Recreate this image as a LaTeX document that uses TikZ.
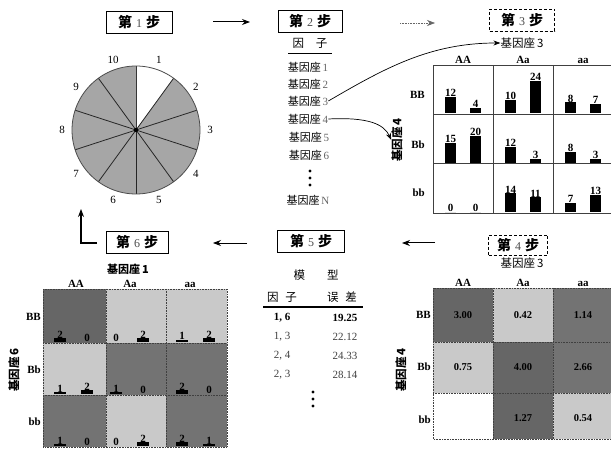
\documentclass[tikz,border=0pt]{standalone}
\usepackage{fontspec}
\setmainfont{Liberation Serif}
\newfontfamily\cjk{Noto Sans CJK SC}
\usetikzlibrary{arrows.meta,calc}
\newcommand{\mystep}[1]{{\cjk\bfseries 第}\hspace{4pt}{\fontsize{12}{12}\selectfont\color{black!70}#1}\hspace{4pt}{\cjk\bfseries 步}}
\definecolor{cdark}{gray}{0.45}
\definecolor{cdarker}{gray}{0.40}
\definecolor{clight}{gray}{0.79}
\definecolor{cpie}{gray}{0.65}
\begin{document}
\begin{tikzpicture}[x=1pt,y=-1pt,
  stepbox/.style={draw=black, line width=0.9pt, minimum height=22pt, inner sep=0pt, font=\fontsize{14}{14}\selectfont},
  stepdash/.style={stepbox, densely dashed, line width=0.7pt},
  hd/.style={font=\fontsize{11}{11}\selectfont\bfseries, inner sep=0pt},
  cjkl/.style={font=\fontsize{11.5}{12}\selectfont\cjk, inner sep=0pt},
  lab/.style={font=\fontsize{11}{12}\selectfont, inner sep=0pt},
  arr/.style={-{Stealth[length=8pt,width=6pt]}, line width=1pt},
  gridl/.style={draw=black!75, line width=0.6pt},
  num/.style={font=\fontsize{11}{11}\selectfont\bfseries, inner sep=0.5pt},
  snum/.style={font=\fontsize{10.5}{10.5}\selectfont\bfseries, inner sep=0.5pt}
]
\useasboundingbox (0,0) rectangle (611,449);
\fill[white] (0,0) rectangle (611,449);

% ---------- step boxes ----------
\node[stepbox, minimum width=66pt] (s1) at (139,22) {\mystep{1}};
\node[stepbox, minimum width=64pt] (s2) at (310,21) {\mystep{2}};
\node[stepdash, minimum width=65pt] (s3) at (522,20) {\mystep{3}};
\node[stepdash, minimum width=59pt, minimum height=20pt] (s4) at (518,245) {\mystep{4}};
\node[stepbox, minimum width=67pt] (s5) at (311,241) {\mystep{5}};
\node[stepbox, minimum width=62pt] (s6) at (137,242) {\mystep{6}};

% ---------- arrows between steps ----------
\coordinate (a1s) at (213,22); \coordinate (a1e) at (250,22);
\draw[arr] (a1s) -- (a1e);
\coordinate (a2s) at (400,23); \coordinate (a2e) at (435,23);
\draw[arr, line width=0.6pt, draw=black!60, densely dotted] (a2s) -- (a2e);
\coordinate (a4s) at (435,243); \coordinate (a4e) at (402,243);
\draw[arr] (a4s) -- (a4e);
\coordinate (a5s) at (247,243); \coordinate (a5e) at (213,243);
\draw[arr, line width=0.8pt] (a5s) -- (a5e);
\coordinate (a6s) at (97,243); \coordinate (a6c) at (81,243); \coordinate (a6e) at (81,209);
\draw[arr, line width=1.2pt] (a6s) -- (a6c) -- (a6e);

% ---------- step 1: pie ----------
\coordinate (pc) at (136,130);
\foreach \i in {1,...,10} {
  \pgfmathsetmacro\sa{90-36*(\i-1)}
  \pgfmathsetmacro\ea{90-36*\i}
  \pgfmathsetmacro\ma{72-36*(\i-1)}
  \ifnum\i=1
    \fill[white] (pc) -- ++(\sa:64pt) arc[start angle=\sa, end angle=\ea, radius=64pt] -- cycle;
  \else
    \fill[cpie] (pc) -- ++(\sa:64pt) arc[start angle=\sa, end angle=\ea, radius=64pt] -- cycle;
  \fi
  \draw[line width=0.8pt, black!85] (pc) -- ++(\sa:64pt);
  \node[lab] (pl\i) at ($(pc)+(\ma:74pt)$) {\i};
}
\draw[line width=0.8pt, black!70] (pc) circle[radius=64pt];
\fill (pc) circle[radius=2.2pt];

% ---------- step 2: list ----------
\node[cjkl] (fh) at (310,43) {因\hspace{12pt}子};
\draw[line width=0.9pt] (288,53) -- (332,53);
\node[lab] (f1) at (308,67) {{\cjk 基因座}\,{\color{black!60}1}};
\node[lab] (f2) at (308,84) {{\cjk 基因座}\,{\color{black!60}2}};
\node[lab] (f3) at (308,101) {{\cjk 基因座}\,{\color{black!60}3}};
\node[lab] (f4) at (308,119) {{\cjk 基因座}\,{\color{black!60}4}};
\node[lab] (f5) at (309,137) {{\cjk 基因座}\,{\color{black!60}5}};
\node[lab] (f6) at (309,155) {{\cjk 基因座}\,{\color{black!60}6}};
\fill (310,171) circle[radius=1.6pt] (310,178) circle[radius=1.6pt] (310,185) circle[radius=1.6pt];
\node[lab] (fN) at (308,200) {{\cjk 基因座}\,{\color{black!60}N}};

% ---------- step 3: bar grid ----------
\node[cjkl] (g3) at (522,43) {基因座\,3};
\node[cjkl, rotate=90, font=\fontsize{11.5}{12}\selectfont\cjk\bfseries] (g4) at (397,140) {基因座\,4};
\draw[-{Stealth[length=7pt,width=5pt]}, line width=0.7pt] (f3.east) .. controls (385,68) and (430,43) .. (g3.west);
\draw[-{Stealth[length=7pt,width=5pt]}, line width=0.7pt] (f4.east) .. controls (368,117) and (384,124) .. (g4.north);
\draw[gridl] (433,65) rectangle (613,213);
\draw[gridl] (493,65) -- (493,213) (553,65) -- (553,213) (433,114) -- (613,114) (433,163.5) -- (613,163.5);
\node[hd, anchor=south] (h3a) at (463,64) {AA};
\node[hd, anchor=south] (h3b) at (523,64) {Aa};
\node[hd, anchor=south] (h3c) at (583,64) {aa};
\node[hd, anchor=east] (r3a) at (425,95) {BB};
\node[hd, anchor=east] (r3b) at (425,145) {Bb};
\node[hd, anchor=east] (r3c) at (425,193) {bb};
\foreach \c/\r/\va/\vb in {0/0/12/4, 1/0/10/24, 2/0/8/7, 0/1/15/20, 1/1/12/3, 2/1/8/3, 0/2/0/0, 1/2/14/11, 2/2/7/13} {
  \pgfmathsetmacro\xa{433+60*\c+12}
  \pgfmathsetmacro\xb{433+60*\c+37}
  \pgfmathsetmacro\yb{113.3+49.5*\r}
  \pgfmathsetmacro\ha{\va*1.35}
  \pgfmathsetmacro\hb{\vb*1.35}
  \fill ({\xa},{\yb}) rectangle ({\xa+11},{\yb-\ha});
  \fill ({\xb},{\yb}) rectangle ({\xb+11},{\yb-\hb});
  \node[num, anchor=south] (b3-\c-\r-a) at ({\xa+5.5},{\yb-\ha+0.5}) {\va};
  \node[num, anchor=south] (b3-\c-\r-b) at ({\xb+5.5},{\yb-\hb+0.5}) {\vb};
}

% ---------- step 4: colour grid ----------
\node[cjkl] (g43) at (522,263) {基因座\,3};
\node[cjkl, rotate=90, font=\fontsize{11.5}{12}\selectfont\cjk\bfseries] (g44) at (401,370) {基因座\,4};
\fill[cdarker] (433,288) rectangle (493,342);
\fill[clight] (493,288) rectangle (553,342);
\fill[cdark] (553,288) rectangle (613,342);
\fill[clight] (433,342) rectangle (493,393);
\fill[cdarker] (493,342) rectangle (553,393);
\fill[cdark] (553,342) rectangle (613,393);
\fill[cdarker] (493,393) rectangle (553,439);
\fill[clight] (553,393) rectangle (613,439);
\draw[gridl, densely dotted] (433,288) rectangle (613,439);
\draw[gridl, densely dotted] (493,288) -- (493,439) (553,288) -- (553,439) (433,342) -- (613,342) (433,393) -- (613,393);
\node[hd, anchor=south] (h4a) at (463,287) {AA};
\node[hd, anchor=south] (h4b) at (523,287) {Aa};
\node[hd, anchor=south] (h4c) at (583,287) {aa};
\node[hd, anchor=east] (r4a) at (431,315) {BB};
\node[hd, anchor=east] (r4b) at (431,367) {Bb};
\node[hd, anchor=east] (r4c) at (431,420) {bb};
\node[snum] (v1) at (463,315) {3.00};
\node[snum] (v2) at (523,315) {0.42};
\node[snum] (v3) at (583,315) {1.14};
\node[snum] (v4) at (463,367) {0.75};
\node[snum] (v5) at (523,367) {4.00};
\node[snum] (v6) at (583,367) {2.66};
\node[snum] (v8) at (523,418) {1.27};
\node[snum] (v9) at (583,418) {0.54};

% ---------- step 5: table ----------
\node[cjkl] (mx) at (316,275) {模\hspace{22pt}型};
\node[cjkl] (t1) at (282,297) {因\hspace{7pt}子};
\node[cjkl] (t2) at (342,297) {误\hspace{7pt}差};
\draw[line width=1.1pt] (263,307) -- (363,307);
\node[lab, font=\fontsize{11}{11}\selectfont\bfseries] (p1) at (282,318) {1, 6};
\node[lab, font=\fontsize{11}{11}\selectfont\bfseries] (e1) at (345,318) {19.25};
\node[lab, text=black!75] (p2) at (282,337) {1, 3};
\node[lab, text=black!75] (e2) at (345,337) {22.12};
\node[lab, text=black!75] (p3) at (282,356) {2, 4};
\node[lab, text=black!75] (e3) at (345,356) {24.33};
\node[lab, text=black!75] (p4) at (282,375) {2, 3};
\node[lab, text=black!75] (e4) at (345,375) {28.14};
\fill (313,392) circle[radius=1.6pt] (313,399) circle[radius=1.6pt] (313,406) circle[radius=1.6pt];

% ---------- step 6: grid ----------
\node[cjkl, font=\fontsize{11}{12}\selectfont\cjk\bfseries] (g61) at (128,269) {基因座\,1};
\node[cjkl, rotate=90, font=\fontsize{11.5}{12}\selectfont\cjk\bfseries] (g66) at (14,370) {基因座\,6};
\fill[cdarker] (43,289) rectangle (106,343);
\fill[clight] (106,289) rectangle (166,343);
\fill[clight] (166,289) rectangle (227,343);
\fill[clight] (43,343) rectangle (106,395);
\fill[cdark] (106,343) rectangle (166,395);
\fill[cdark] (166,343) rectangle (227,395);
\fill[cdark] (43,395) rectangle (106,447);
\fill[clight] (106,395) rectangle (166,447);
\fill[cdark] (166,395) rectangle (227,447);
\draw[gridl, densely dotted] (43,289) rectangle (227,447);
\draw[gridl, densely dotted] (106,289) -- (106,447) (166,289) -- (166,447) (43,343) -- (227,343) (43,395) -- (227,395);
\node[hd, anchor=south] (h6a) at (76,288) {AA};
\node[hd, anchor=south] (h6b) at (130,288) {Aa};
\node[hd, anchor=south] (h6c) at (190,288) {aa};
\node[hd, anchor=east] (r6a) at (41,317) {BB};
\node[hd, anchor=east] (r6b) at (41,370) {Bb};
\node[hd, anchor=east] (r6c) at (41,422) {bb};
\foreach \x/\r/\va/\vb in {60/0/2/0, 116/0/0/2, 182/0/1/2, 60/1/1/2, 116/1/1/0, 182/1/2/0, 60/2/1/0, 116/2/0/2, 182/2/2/1} {
  \pgfmathsetmacro\yb{342+52*\r}
  \pgfmathsetmacro\ha{\va*1.8}
  \pgfmathsetmacro\hb{\vb*1.8}
  \pgfmathsetmacro\xb{\x+27}
  \ifnum\va>0 \fill ({\x-6},{\yb}) rectangle ({\x+6},{\yb-\ha}); \fi
  \ifnum\vb>0 \fill ({\xb-6},{\yb}) rectangle ({\xb+6},{\yb-\hb}); \fi
  \node[num, anchor=south] (b6-\x-\r-a) at ({\x},{\yb-\ha+0.5}) {\va};
  \node[num, anchor=south] (b6-\x-\r-b) at ({\xb},{\yb-\hb+0.5}) {\vb};
}
\end{tikzpicture}
\end{document}
